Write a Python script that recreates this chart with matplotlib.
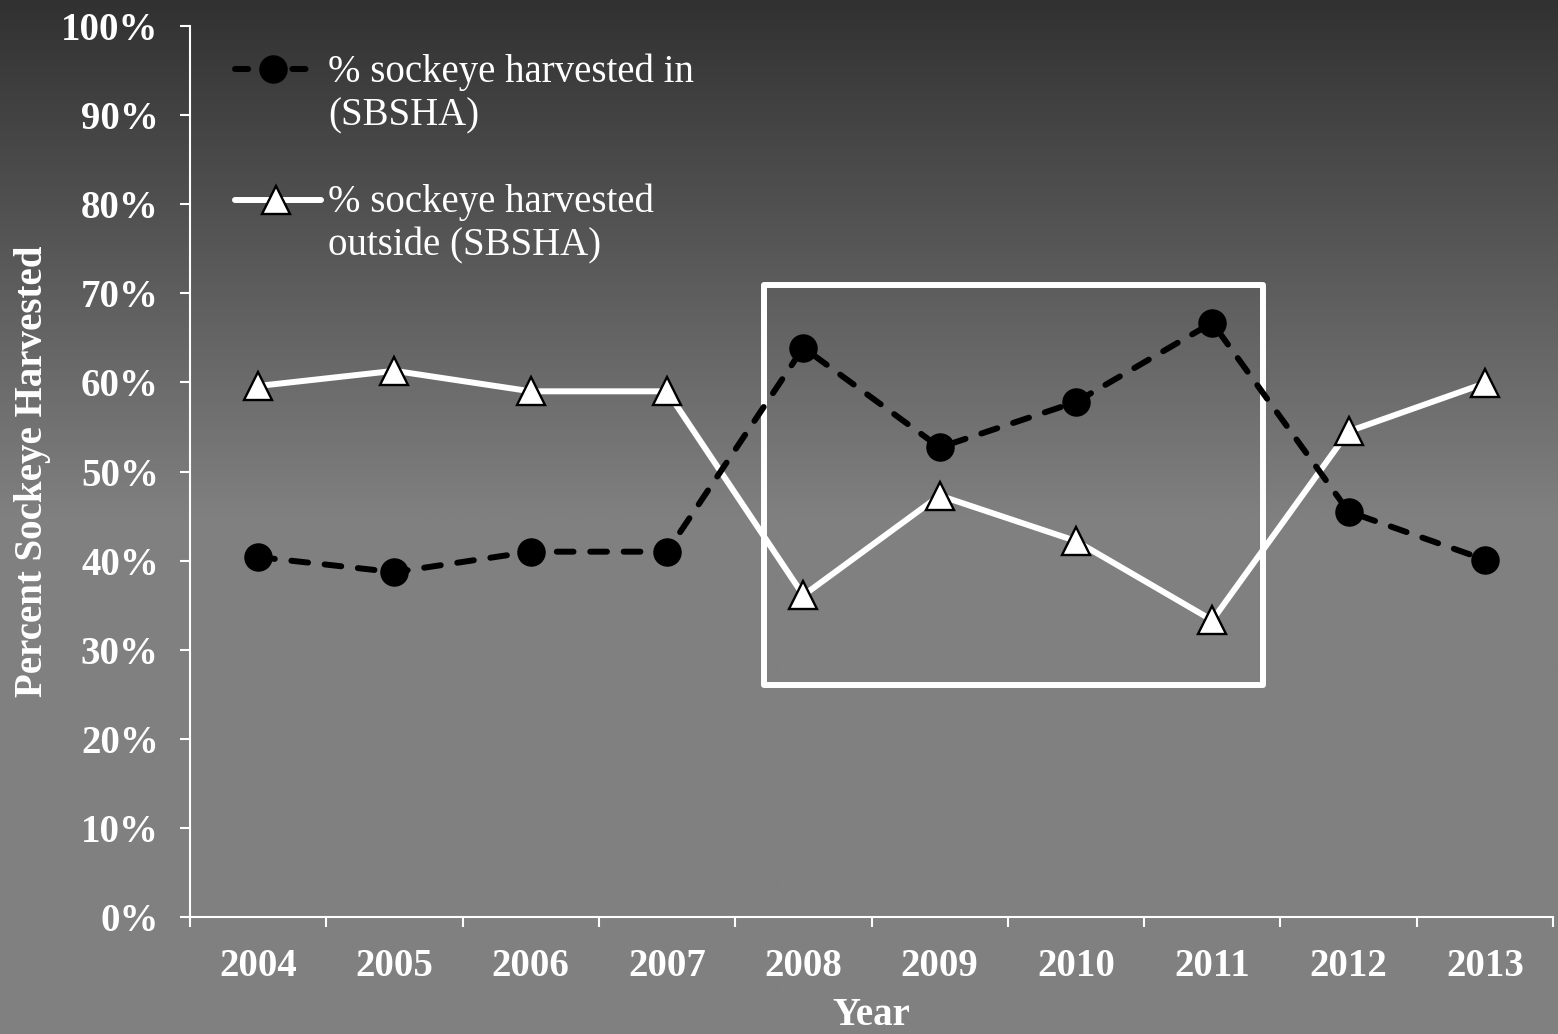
import numpy as np
import matplotlib
matplotlib.use("Agg")
import matplotlib.pyplot as plt
from matplotlib.patches import Rectangle

years = ["2004", "2005", "2006", "2007", "2008", "2009", "2010", "2011", "2012", "2013"]
pct_in = [40.4, 38.7, 41.0, 41.0, 63.9, 52.7, 57.8, 66.7, 45.5, 40.1]
pct_out = [59.6, 61.3, 59.0, 59.0, 36.1, 47.3, 42.2, 33.3, 54.5, 59.9]
yticks = [0, 10, 20, 30, 40, 50, 60, 70, 80, 90, 100]
label_in = "% sockeye harvested in\n(SBSHA)"
label_out = "% sockeye harvested\noutside (SBSHA)"
# highlight box (category-index x range, percent y range)
box_x = (3.71, 7.37)
box_y = (26.0, 70.9)

W, H = 1558, 1034
FONT = "Liberation Serif"
FS = 28

fig = plt.figure(figsize=(W / 100, H / 100), dpi=100)

# background gradient
bg = fig.add_axes([0, 0, 1, 1], zorder=-10)
rows = np.linspace(0, 1, 600)
top_c, bot_c, stop = 0x31 / 255, 0x80 / 255, 0.5
vals = np.where(rows < stop, top_c + (bot_c - top_c) * rows / stop, bot_c)
grad = np.repeat(vals[:, None], 2, axis=1)
bg.imshow(np.dstack([grad, grad, grad]), aspect="auto", extent=[0, 1, 0, 1], origin="upper")
bg.set_axis_off()

L, R, B, T = 190, 1553, 917, 26
ax = fig.add_axes([L / W, 1 - B / H, (R - L) / W, (B - T) / H])
ax.set_facecolor("none")

x = np.arange(len(years))
ax.add_patch(Rectangle((box_x[0], box_y[0]), box_x[1] - box_x[0], box_y[1] - box_y[0],
                       fill=False, edgecolor="white", linewidth=4.3, joinstyle="round", zorder=2))

LW = 4.3
DASH = (0, (2.8, 2.8))
ax.plot(x, pct_out, color="white", linewidth=LW, marker="^", markersize=20,
        markerfacecolor="white", markeredgecolor="black", markeredgewidth=1.7, zorder=3)
ax.plot(x, pct_in, color="black", linewidth=LW, linestyle=DASH, dash_capstyle="round",
        marker="o", markersize=19.5, markerfacecolor="black", markeredgecolor="black", zorder=4)

ax.set_xlim(-0.5, len(years) - 0.5)
ax.set_ylim(0, 100)

for s in ["top", "right"]:
    ax.spines[s].set_visible(False)
for s in ["left", "bottom"]:
    ax.spines[s].set_color("white")
    ax.spines[s].set_linewidth(1.5)

ax.set_yticks(yticks)
ax.set_yticklabels([f"{v}%" for v in yticks], fontfamily=FONT, fontweight="bold", fontsize=FS, color="white")
ax.tick_params(axis="y", direction="out", length=7.5, width=1.5, color="white", pad=15)

ax.set_xticks(np.arange(-0.5, len(years), 1))
ax.set_xticklabels([])
ax.set_xticks(x, minor=True)
ax.set_xticklabels(years, minor=True, fontfamily=FONT, fontweight="bold", fontsize=FS, color="white")
ax.tick_params(axis="x", which="major", direction="out", length=7.5, width=1.5, color="white")
ax.tick_params(axis="x", which="minor", length=0, pad=22)

def fx(px):
    return (px - L) / (R - L)

def fy(py):
    return (B - py) / (B - T)

ax.set_xlabel("Year", fontfamily=FONT, fontweight="bold", fontsize=FS, color="white")
ax.xaxis.label.set_va("baseline")
ax.xaxis.set_label_coords(0.5, fy(1025))
ax.set_ylabel("Percent Sockeye Harvested", fontfamily=FONT, fontweight="bold", fontsize=FS, color="white")
ax.yaxis.set_label_coords(fx(51), 0.5)

# legend drawn manually (handles aligned to first label line)
ax.plot([fx(235), fx(310)], [fy(69), fy(69)], transform=ax.transAxes, color="black", linewidth=LW,
        linestyle=(0, (2.2, 2.6)), dash_capstyle="round", clip_on=False)
ax.plot([fx(273)], [fy(69)], transform=ax.transAxes, marker="o", markersize=19.5, color="black", clip_on=False)
ax.plot([fx(235), fx(321)], [fy(200), fy(200)], transform=ax.transAxes, color="white", linewidth=LW,
        solid_capstyle="round", clip_on=False)
ax.plot([fx(276)], [fy(200)], transform=ax.transAxes, marker="^", markersize=20, markerfacecolor="white",
        markeredgecolor="black", markeredgewidth=1.7, linestyle="none", clip_on=False)
for lbl, base1, base2 in [(label_in, 82, 125), (label_out, 212, 255)]:
    l1, l2 = lbl.split("\n")
    ax.text(fx(328), fy(base1), l1, transform=ax.transAxes, fontfamily=FONT, fontsize=FS,
            color="white", va="baseline", ha="left")
    ax.text(fx(328), fy(base2), l2, transform=ax.transAxes, fontfamily=FONT, fontsize=FS,
            color="white", va="baseline", ha="left")

fig.savefig("out.png", dpi=100)
